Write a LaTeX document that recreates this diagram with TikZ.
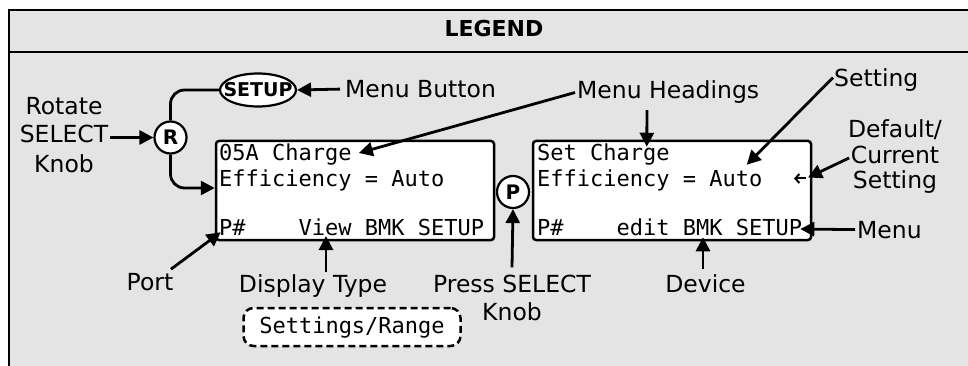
\documentclass[tikz,border=0pt]{standalone}
\usepackage{fontspec}
\setmainfont{DejaVu Sans}
\newfontfamily\lcdfont{DejaVu Sans Mono}
\usetikzlibrary{arrows.meta,shapes.geometric,calc}
\definecolor{legendgray}{RGB}{228,228,228}
\begin{document}
\begin{tikzpicture}[x=1pt,y=-1pt,
  lbl/.style={font=\fontsize{23.5}{28}\selectfont, inner sep=0pt, anchor=base},
  lcd/.style={draw, fill=white, line width=2.5pt, rounded corners=3pt, minimum width=278pt, minimum height=99pt, inner sep=0pt},
  lcdtxt/.style={font=\lcdfont\fontsize{22}{26}\selectfont, inner sep=0pt, anchor=base west},
  knob/.style={circle, draw, fill=white, line width=2.2pt, minimum size=32pt, inner sep=0pt, font=\bfseries\fontsize{20}{24}\selectfont},
  conn/.style={line width=2.8pt},
  arr/.style={conn, -{Triangle[length=14pt,width=14pt]}},
]
\useasboundingbox (0,0) rectangle (968,366);
\clip (0,0) rectangle (968,366);
\fill[white] (0,0) rectangle (968,366);
\draw[line width=2pt, fill=legendgray] (9,10) rectangle (990,390);
\draw[line width=2pt] (9,52) -- (990,52);
\node[font=\bfseries\fontsize{22}{26}\selectfont, inner sep=0pt, anchor=base] (title) at (494,37) {LEGEND};

% LCD boxes
\node[lcd] (lcdA) at (355,190.5) {};
\node[lcd] (lcdB) at (672,190.5) {};
\node[lcdtxt] (a1) at (219,160.5) {05A Charge};
\node[lcdtxt] (a2) at (219,186) {Efficiency = Auto};
\node[lcdtxt] (a3) at (219,235) {P\#\ \ \ \ View BMK SETUP};
\node[lcdtxt] (b1) at (537,160.5) {Set Charge};
\node[lcdtxt] (b2) at (537,186) {Efficiency = Auto};
\node[lcdtxt] (b3) at (537,235) {P\#\ \ \ \ edit BMK SETUP};
% small current-setting marker
\coordinate (curtip) at (794,178.5);
\coordinate (curarr) at (806,178.5);
\draw[line width=2pt, -{Straight Barb[length=4pt,width=9pt,line width=2pt]}] (curarr) -- (curtip);

% setup ellipse and knobs
\node[ellipse, draw, fill=white, line width=2.2pt, minimum width=76pt, minimum height=33pt, inner xsep=-12pt, inner ysep=-5pt, font=\bfseries\fontsize{19}{22}\selectfont] (setup) at (258,90) {SETUP};
\node[knob] (R) at (170.5,137.5) {R};
\node[knob] (P) at (513,192) {P};

% labels
\node[lbl] (rot) at (64,115) {Rotate};
\node[lbl] (sel) at (64,143) {SELECT};
\node[lbl] (knb) at (64,172) {Knob};
\node[lbl, anchor=base west] (mb) at (345,97.5) {Menu Button};
\node[lbl, anchor=base west] (mh) at (577,99) {Menu Headings};
\node[lbl, anchor=base west] (set) at (834,87) {Setting};
\node[lbl] (dft1) at (895,137.5) {Default/};
\node[lbl] (dft2) at (895,163.5) {Current};
\node[lbl] (dft3) at (895,189) {Setting};
\node[lbl, anchor=base west] (menu) at (857,238) {Menu};
\node[lbl] (port) at (150,290) {Port};
\node[lbl] (dt) at (313,292) {Display Type};
\node[lbl] (dev) at (705.5,292) {Device};
\node[lbl] (pr1) at (512,292) {Press SELECT};
\node[lbl] (pr2) at (512,320) {Knob};
\node[draw, line width=2.5pt, dash pattern=on 7pt off 4pt, rounded corners=10pt, fill=white, minimum width=217pt, minimum height=38pt, inner sep=0pt, text height=16pt, text depth=4pt, font=\lcdfont\fontsize{22}{26}\selectfont] (sr) at (352,327) {Settings/Range};

% connectors
\draw[arr] ($(sel.east |- R.west)+(2,0)$) -- (R.west);
\draw[conn, rounded corners=14pt] (R.north) |- (setup.west);
\draw[arr, rounded corners=14pt] (R.south) |- ($(lcdA.west)+(0,-2.5)$);
\draw[arr] ($(mb.west)+(-5,0)$) -- (setup.east);
\draw[arr] ($(mh.west)+(-2,0)$) -- ($(a1.base east)+(7,-7.5)$);
\draw[arr] ($(mh.south west)+(70,6)$) -- ($(lcdB.north west)+(115,7)$);
\draw[arr] ($(set.west)+(-1,-3)$) -- ($(lcdB.north west)+(215,25)$);
\draw[arr] ($(dft2.west)+(-1.5,3)$) -- ($(curarr)+(2,-1)$);
\draw[arr] ($(menu.west)+(-2,0)$) -- ($(b3.base east)+(-2,-6)$);
\draw[arr] ($(port.north east)+(-2.5,-3.5)$) -- ($(lcdA.south west)+(6,-9)$);
\draw[arr] ($(dt.north)+(13,-1.5)$) -- ($(a3.base west)+(107,1)$);
\draw[arr] ($(dev.north)+(-2.5,-4.5)$) -- ($(lcdB.south)+(31,-4)$);
\draw[arr] ($(pr1.north)+(0,-7)$) -- (P.south);
\end{tikzpicture}
\end{document}
